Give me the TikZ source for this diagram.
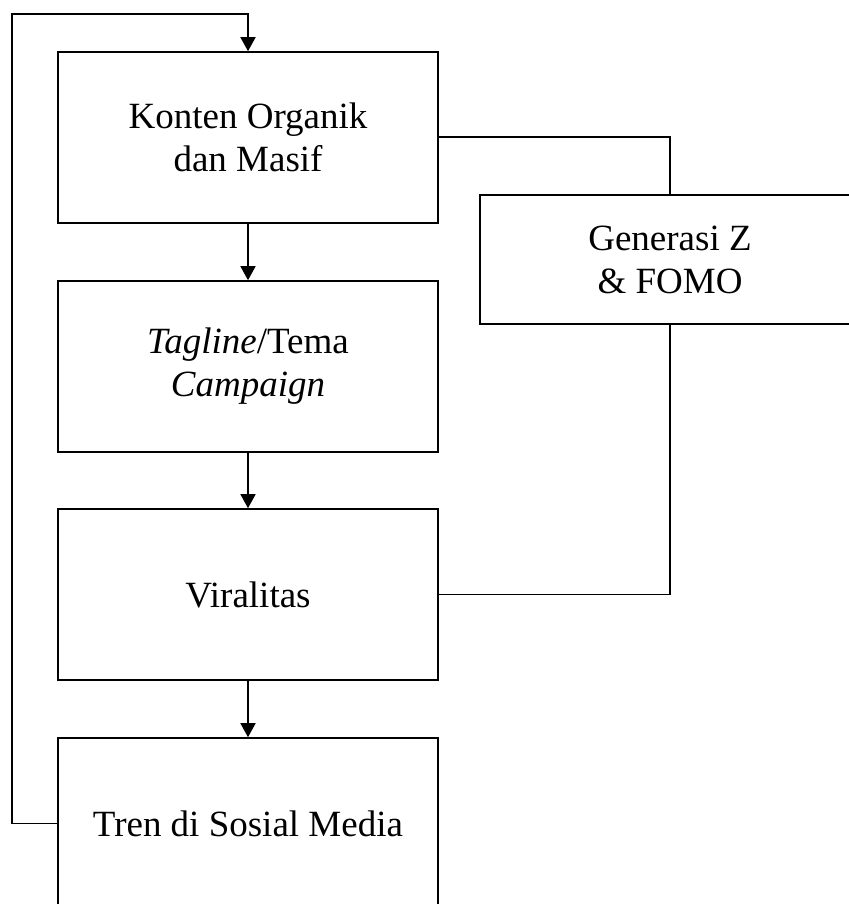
\documentclass[tikz,border=0pt]{standalone}
\usepackage{fontspec}
\setmainfont{Liberation Serif}
\usetikzlibrary{arrows.meta}
\begin{document}
\begin{tikzpicture}[x=1pt,y=-1pt,
  box/.style={draw, line width=1.6pt, minimum width=380pt, minimum height=171pt, inner sep=0pt, align=center,
    font=\fontsize{37}{43}\selectfont},
  conn/.style={line width=1.6pt},
  arr/.style={line width=1.6pt, -{Triangle[width=15pt,length=14pt]}}]
\useasboundingbox (0,0) rectangle (848,904);
\node[box] (k) at (248,137.5) {Konten Organik\\dan Masif};
\node[box] (t) at (248,366.5) {\textit{Tagline}/Tema\\\textit{Campaign}};
\node[box] (v) at (248,594.5) {Viralitas};
\node[box] (s) at (248,823.5) {Tren di Sosial Media};
\node[box, minimum height=129pt] (g) at (670,259.5) {Generasi Z\\\& FOMO};
\coordinate (top) at (12,14);
\draw[arr] (k) -- (t);
\draw[arr] (t) -- (v);
\draw[arr] (v) -- (s);
\draw[arr] (s.west) -| (top) -| (k.north);
\draw[conn] (k.east |- 0,137) -| (g.north);
\draw[conn] (g.south) |- (v.east);
\end{tikzpicture}
\end{document}
